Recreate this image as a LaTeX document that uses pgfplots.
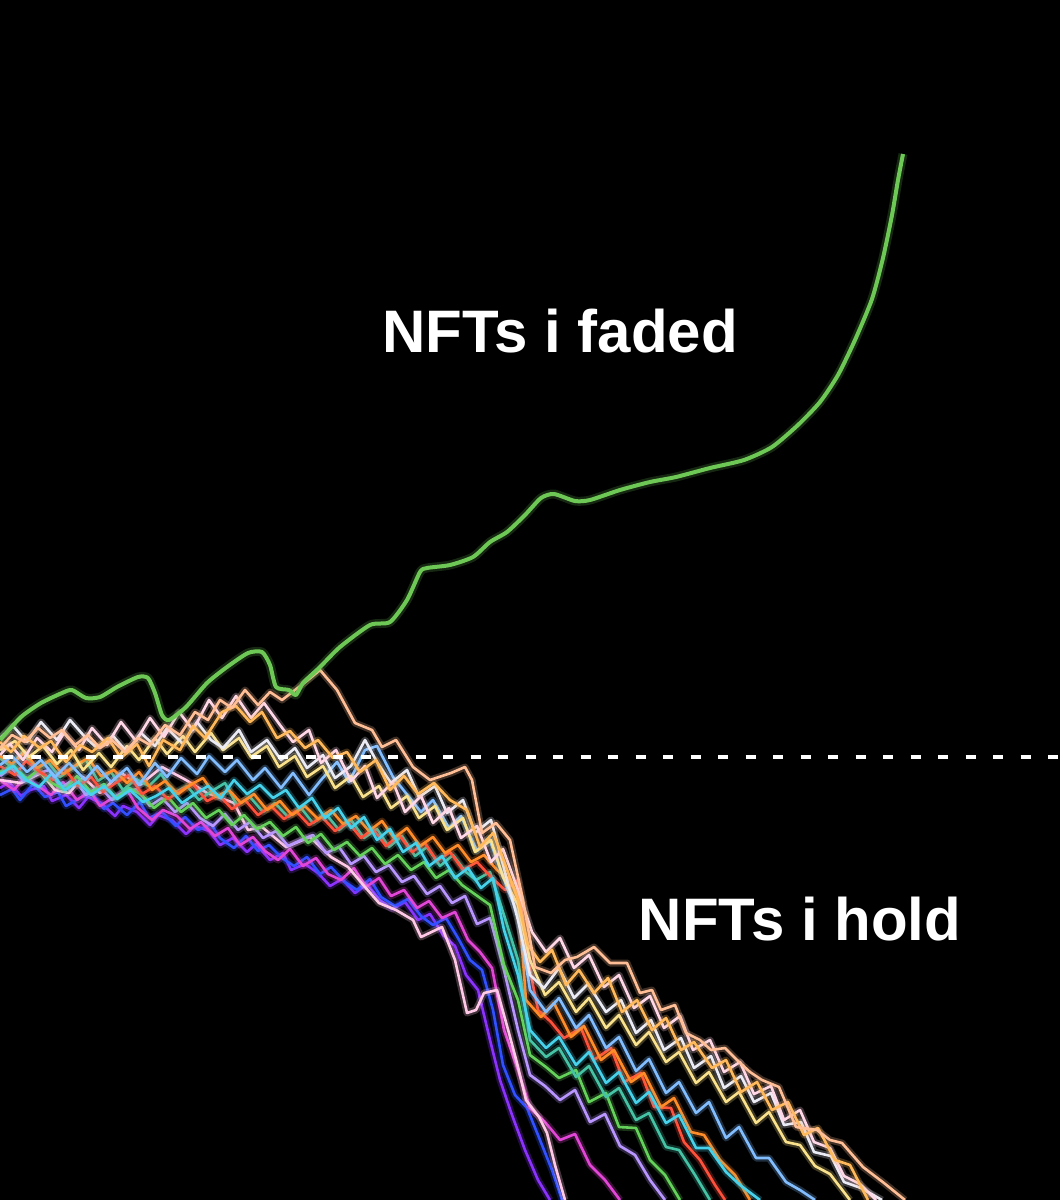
\documentclass[border=0pt]{standalone}
\usepackage{pgfplots}
\pgfplotsset{compat=1.18}
\usepackage{fontspec}
\setmainfont{Liberation Sans}
\definecolor{gr}{RGB}{110,200,85}
\definecolor{cA}{RGB}{255,190,150}
\definecolor{cB}{RGB}{255,185,90}
\definecolor{cC}{RGB}{255,215,230}
\definecolor{cO}{RGB}{235,235,245}
\definecolor{cP}{RGB}{250,225,140}
\definecolor{cD}{RGB}{130,190,255}
\definecolor{cE}{RGB}{70,210,235}
\definecolor{cF}{RGB}{255,80,60}
\definecolor{cG}{RGB}{255,140,40}
\definecolor{cH}{RGB}{100,210,90}
\definecolor{cI}{RGB}{70,195,165}
\definecolor{cN}{RGB}{185,150,255}
\definecolor{cL}{RGB}{225,70,215}
\definecolor{cJ}{RGB}{50,80,255}
\definecolor{cK}{RGB}{140,50,255}
\definecolor{cM}{RGB}{255,200,230}
\begin{document}
\begin{tikzpicture}
\begin{axis}[width=1060pt,height=1200pt,scale only axis,
  xmin=0,xmax=1060,ymin=0,ymax=1200,y dir=reverse,
  axis line style={draw=none},ticks=none,
  axis background/.style={fill=black},
  glow/.style={line width=2.6pt,line join=round,preaction={draw,line width=7pt,opacity=0.25}}]
% lower group
\addplot[cK,glow] coordinates {(0,788)(9,782)(21,796)(30,790)(44,786)(52,801)(66,795)(79,808)(88,797)(101,803)(115,816)(123,806)(137,812)(150,825)(158,815)(172,820)(186,834)(195,826)(209,831)(220,845)(233,838)(247,852)(256,844)(270,860)(283,853)(291,870)(305,864)(318,873)(330,886)(342,879)(355,893)(367,884)(380,900)(392,909)(405,902)(418,920)(430,914)(443,935)(455,946)(466,975)(478,990)(490,1040)(500,1080)(512,1115)(525,1150)(538,1180)(550,1200)};
\addplot[cJ,glow] coordinates {(0,795)(12,789)(20,800)(33,784)(45,797)(58,792)(66,806)(80,798)(92,793)(104,809)(113,803)(127,815)(140,802)(149,818)(162,812)(176,826)(185,817)(198,830)(211,824)(220,838)(234,848)(246,836)(258,851)(269,845)(282,858)(294,866)(307,857)(320,874)(331,867)(345,882)(357,890)(370,879)(381,897)(395,906)(408,899)(421,916)(433,925)(446,918)(458,938)(470,960)(482,970)(493,1010)(503,1065)(515,1095)(527,1108)(540,1140)(552,1170)(562,1200)};
\addplot[cL,glow] coordinates {(0,780)(14,790)(25,777)(38,786)(51,795)(63,782)(77,800)(90,791)(100,806)(114,797)(127,790)(138,808)(152,820)(163,810)(177,816)(190,829)(201,822)(215,836)(228,828)(240,845)(253,837)(265,851)(278,860)(290,849)(303,866)(316,858)(328,874)(341,880)(354,868)(366,887)(379,878)(391,896)(404,890)(417,908)(429,901)(442,918)(455,912)(468,940)(480,952)(492,968)(504,1030)(518,1070)(530,1108)(545,1122)(560,1140)(575,1134)(590,1165)(605,1180)(620,1200)};
\addplot[cM,glow] coordinates {(0,780)(21,783)(41,773)(55,790)(69,793)(83,777)(100,793)(121,773)(140,785)(162,767)(186,780)(207,793)(234,803)(248,830)(262,827)(286,847)(310,837)(331,857)(348,867)(365,887)(379,903)(396,910)(413,920)(421,937)(442,927)(455,960)(467,1013)(476,1010)(484,993)(497,990)(509,1033)(518,1067)(526,1100)(539,1117)(547,1133)(555,1165)(565,1200)};
\addplot[cN,glow] coordinates {(0,776)(11,768)(24,781)(36,774)(49,770)(61,788)(74,779)(86,795)(99,786)(112,800)(124,792)(137,789)(150,806)(162,798)(175,812)(187,803)(200,818)(213,826)(225,814)(238,830)(250,822)(263,838)(276,831)(288,846)(301,840)(313,835)(326,853)(339,847)(351,864)(364,856)(376,872)(389,865)(402,882)(414,876)(427,894)(440,886)(452,903)(465,896)(477,924)(490,918)(504,970)(518,1030)(530,1075)(545,1086)(560,1100)(575,1090)(590,1122)(605,1114)(620,1146)(635,1155)(650,1180)(665,1200)};
% middle group
\addplot[cH,glow] coordinates {(0,772)(13,765)(27,779)(38,770)(52,783)(65,790)(77,776)(91,792)(104,784)(116,798)(129,788)(142,795)(154,808)(168,797)(181,812)(193,803)(206,818)(219,810)(232,825)(244,815)(257,829)(270,822)(283,836)(296,827)(308,843)(321,834)(334,850)(347,842)(360,856)(372,848)(385,864)(398,855)(411,870)(424,862)(436,878)(449,870)(462,885)(476,895)(490,905)(504,965)(518,1000)(530,1055)(546,1067)(559,1078)(576,1070)(589,1102)(606,1093)(619,1127)(636,1128)(650,1160)(665,1175)(680,1200)};
\addplot[cI,glow] coordinates {(0,758)(10,766)(23,752)(35,770)(48,762)(60,777)(73,768)(86,760)(98,781)(111,772)(123,790)(136,779)(149,786)(161,774)(174,793)(187,786)(199,800)(212,791)(225,783)(237,805)(250,797)(263,812)(275,803)(288,817)(301,808)(313,823)(326,814)(339,830)(351,820)(364,838)(377,829)(389,847)(402,836)(415,856)(427,847)(440,866)(453,855)(466,872)(476,880)(490,872)(504,915)(518,960)(530,1040)(546,1057)(559,1048)(576,1077)(589,1066)(606,1097)(619,1088)(636,1120)(649,1113)(666,1147)(679,1150)(695,1175)(710,1200)};
\addplot[cF,glow] coordinates {(0,766)(15,775)(26,761)(40,772)(53,780)(64,768)(78,786)(91,777)(103,792)(117,782)(129,775)(142,794)(155,786)(168,799)(180,791)(193,784)(207,801)(219,795)(232,809)(245,800)(258,815)(271,806)(284,819)(296,811)(309,825)(322,817)(335,831)(348,822)(361,838)(373,829)(386,846)(399,835)(412,852)(425,843)(437,861)(450,852)(463,870)(477,862)(490,876)(505,890)(518,880)(528,960)(538,1010)(551,1022)(564,1038)(581,1028)(594,1060)(611,1048)(624,1082)(641,1073)(654,1107)(671,1108)(684,1142)(700,1160)(715,1185)(725,1200)};
\addplot[cG,glow] coordinates {(0,756)(12,764)(25,752)(37,768)(50,760)(63,774)(76,765)(88,758)(101,776)(114,770)(127,783)(139,772)(152,790)(165,781)(178,794)(190,785)(203,778)(216,797)(229,790)(241,803)(254,794)(267,810)(280,801)(292,815)(305,806)(318,819)(331,810)(343,824)(356,816)(369,831)(382,821)(394,838)(407,828)(420,846)(433,837)(445,853)(458,845)(471,862)(484,855)(497,870)(510,880)(518,895)(526,1000)(541,1017)(554,1003)(571,1037)(584,1026)(601,1060)(614,1050)(631,1082)(644,1073)(661,1107)(674,1098)(691,1132)(704,1135)(720,1160)(735,1175)(750,1200)};
\addplot[cE,glow] coordinates {(0,774)(13,766)(26,780)(39,787)(52,773)(65,790)(78,782)(91,795)(104,786)(117,799)(130,790)(143,802)(156,796)(169,788)(182,803)(195,794)(208,786)(221,798)(234,780)(247,794)(260,785)(273,798)(286,790)(299,808)(312,798)(325,818)(338,808)(351,828)(364,817)(377,840)(390,829)(403,852)(416,843)(429,866)(442,856)(455,878)(468,868)(481,888)(493,878)(504,930)(518,975)(530,1030)(546,1048)(559,1037)(576,1065)(589,1052)(606,1083)(619,1072)(636,1103)(649,1092)(666,1123)(679,1115)(696,1148)(709,1148)(726,1172)(740,1185)(760,1200)};
\addplot[cD,glow] coordinates {(0,765)(12,756)(27,772)(41,760)(55,777)(69,763)(85,780)(97,766)(111,782)(127,768)(139,785)(155,763)(167,777)(181,758)(197,774)(209,756)(225,772)(237,760)(253,780)(265,768)(281,788)(293,773)(309,795)(321,780)(337,762)(349,782)(365,750)(377,746)(393,777)(405,792)(421,812)(433,800)(449,828)(461,816)(477,851)(489,838)(505,882)(518,915)(530,990)(546,1012)(559,998)(576,1028)(589,1015)(606,1048)(619,1037)(636,1071)(649,1059)(666,1093)(679,1082)(696,1113)(709,1102)(726,1138)(739,1127)(756,1158)(769,1158)(786,1182)(800,1190)(815,1200)};
% upper group
\addplot[cP,glow] coordinates {(0,750)(15,741)(29,757)(43,746)(57,764)(71,750)(83,770)(99,753)(111,767)(127,746)(139,760)(155,738)(167,754)(183,736)(195,752)(211,733)(223,750)(239,738)(251,757)(267,746)(279,767)(295,756)(307,777)(323,766)(335,788)(351,776)(363,797)(379,786)(391,808)(407,796)(419,818)(435,806)(447,830)(463,818)(475,852)(491,840)(503,877)(518,905)(530,960)(545,995)(559,982)(576,1012)(589,998)(606,1028)(619,1015)(636,1045)(649,1032)(666,1062)(679,1052)(696,1083)(709,1072)(726,1102)(739,1092)(756,1123)(769,1112)(786,1142)(800,1145)(815,1166)(830,1174)(850,1200)};
\addplot[cO,glow] coordinates {(0,738)(13,726)(27,742)(41,722)(57,740)(70,720)(85,737)(97,748)(113,736)(127,752)(141,733)(155,746)(167,728)(183,744)(197,722)(211,740)(223,748)(239,730)(251,752)(267,740)(281,760)(295,748)(307,768)(323,755)(335,778)(351,766)(365,740)(377,762)(391,783)(407,770)(419,797)(435,786)(447,813)(463,800)(475,833)(491,820)(505,872)(518,920)(530,975)(544,988)(559,968)(574,998)(588,984)(606,1012)(621,1000)(636,1033)(651,1020)(664,1050)(681,1038)(694,1068)(711,1056)(724,1088)(741,1076)(754,1102)(771,1093)(784,1125)(801,1122)(814,1152)(831,1156)(844,1182)(861,1188)(882,1200)};
\addplot[cC,glow] coordinates {(0,755)(10,744)(23,760)(37,738)(52,752)(64,733)(79,750)(92,728)(107,745)(121,722)(136,741)(150,718)(164,737)(179,712)(193,730)(209,700)(222,718)(236,696)(251,718)(264,703)(280,725)(293,742)(309,730)(321,763)(336,750)(351,781)(365,766)(377,798)(393,782)(405,812)(421,796)(433,823)(449,808)(461,838)(477,826)(491,862)(503,849)(518,890)(532,932)(546,952)(560,938)(574,968)(589,955)(604,987)(619,975)(634,1008)(650,996)(664,1028)(680,1016)(693,1050)(710,1040)(724,1072)(740,1062)(754,1094)(771,1086)(784,1120)(800,1110)(814,1142)(830,1148)(844,1176)(860,1184)(876,1200)};
\addplot[cB,glow] coordinates {(0,742)(11,752)(24,736)(40,748)(51,741)(66,762)(80,745)(92,752)(108,738)(121,758)(137,744)(149,766)(163,740)(180,750)(193,726)(205,738)(222,712)(236,706)(250,722)(262,712)(277,738)(290,731)(305,748)(318,740)(333,758)(347,752)(360,772)(376,760)(390,790)(404,776)(418,794)(434,783)(450,800)(467,810)(480,847)(493,833)(501,853)(518,900)(528,945)(540,962)(552,950)(566,985)(579,970)(594,993)(608,978)(622,1012)(637,1000)(652,1030)(666,1018)(681,1050)(694,1042)(712,1068)(726,1060)(741,1092)(757,1082)(772,1110)(788,1102)(804,1135)(818,1128)(835,1160)(850,1165)(868,1200)};
\addplot[cA,glow] coordinates {(0,748)(12,735)(25,742)(38,728)(50,738)(62,730)(75,745)(88,735)(100,748)(112,740)(125,752)(138,738)(150,745)(165,725)(180,735)(195,712)(208,720)(220,700)(232,708)(245,690)(258,705)(270,692)(282,700)(295,690)(308,680)(320,670)(337,690)(355,723)(372,730)(382,747)(396,740)(413,767)(430,780)(451,773)(465,767)(472,780)(482,833)(496,823)(510,840)(523,900)(535,967)(551,973)(565,960)(577,957)(594,947)(610,963)(627,963)(640,993)(652,990)(661,1010)(675,1005)(686,1033)(700,1040)(711,1050)(725,1048)(737,1060)(750,1072)(762,1080)(779,1087)(796,1127)(817,1130)(830,1140)(842,1143)(863,1167)(884,1183)(905,1200)};
% green
\addplot[gr,line width=4pt,smooth,tension=0.4,line join=round,preaction={draw,line width=9pt,opacity=0.2}] coordinates {(0,740)(21,717)(41,703)(62,693)(72,690)(86,698)(100,697)(117,687)(138,677)(148,678)(155,693)(162,715)(169,720)(186,707)(207,683)(227,667)(248,653)(262,652)(270,665)(276,687)(289,690)(296,695)(303,683)(320,667)(340,647)(370,625)(390,622)(407,600)(420,572)(427,568)(450,565)(473,557)(490,542)(507,532)(525,515)(541,498)(554,494)(575,501)(590,500)(620,490)(650,482)(676,477)(710,468)(744,460)(772,447)(798,425)(820,402)(838,375)(855,340)(872,299)(883,258)(892,215)(898,180)(903,154)};
% dashed reference
\addplot[white,line width=4pt,dash pattern=on 10pt off 17.5pt] coordinates {(3,757)(1060,757)};
\node[white,anchor=base,font=\bfseries\fontsize{60}{64}\selectfont] at (axis cs:560,352) {NFTs i faded};
\node[white,anchor=base,font=\bfseries\fontsize{60}{64}\selectfont] at (axis cs:800,940) {NFTs i hold};
\end{axis}
\end{tikzpicture}
\end{document}
